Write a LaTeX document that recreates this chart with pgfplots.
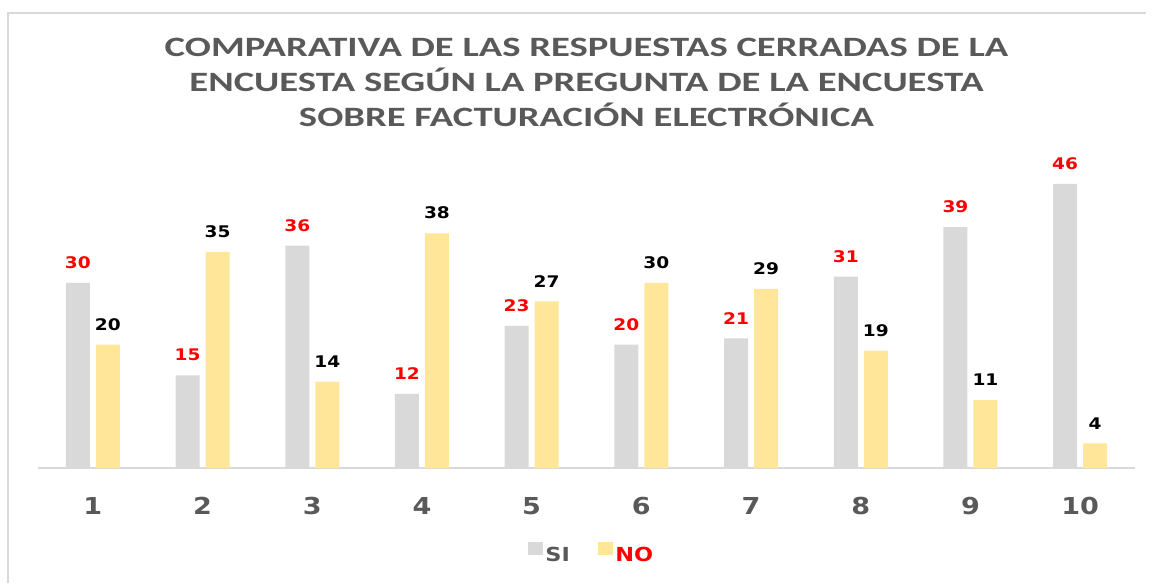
\documentclass[border=0pt]{standalone}
\usepackage{pgfplots}
\pgfplotsset{compat=1.18}
\usepackage{fontspec}
\setmainfont{DejaVu Sans}[FakeStretch=1.16]
\newfontfamily\titlefont{Carlito}[FakeStretch=1.38]
\definecolor{sicol}{HTML}{D9D9D9}
\definecolor{nocol}{HTML}{FFE699}
\definecolor{txtgray}{HTML}{595959}

\begin{document}
\begin{tikzpicture}
% page = 1156 x 583 px at 0.75pt per px
\path[use as bounding box] (-28.5pt,-86.25pt) rectangle (838.5pt,351pt);
\draw[sicol,line width=1.5pt] (-22.5pt,-86.25pt) -- (-22.5pt,341.25pt) -- (831pt,341.25pt);

\begin{axis}[
  scale only axis,
  width=822.75pt, height=238.5pt,
  ybar=4.5pt, bar width=18pt,
  xmin=0.5, xmax=10.5,
  ymin=0, ymax=51.5,
  axis x line=bottom,
  axis y line=none,
  axis line style={-, sicol, line width=1.5pt},
  xtick={1,...,10},
  major tick length=0pt,
  /pgf/number format/assume math mode=true,
  xticklabel style={font=\bfseries\fontsize{17.5}{20}\selectfont, text=txtgray, inner sep=0pt, yshift=-22pt},
  ytick=\empty,
  nodes near coords,
  every node near coord/.append style={font=\bfseries\fontsize{12}{14}\selectfont, inner sep=0pt, yshift=10.5pt},
  legend style={at={(0.505,-0.27)}, anchor=center, draw=none, fill=none,
    legend columns=2, font=\bfseries\fontsize{14.5}{16}\selectfont,
    /tikz/every even column/.append style={column sep=19pt}},
  legend image code/.code={\fill[#1] (0pt,0pt) rectangle (11pt,10pt);},
  clip=false,
]
\addplot[fill=sicol, draw=none, nodes near coords style={text=red}] coordinates {
  (1,30) (2,15) (3,36) (4,12) (5,23) (6,20) (7,21) (8,31) (9,39) (10,46)
};
\addlegendentry{\textcolor{txtgray}{SI}}
\addplot[fill=nocol, draw=none, nodes near coords style={text=black}] coordinates {
  (1,20) (2,35) (3,14) (4,38) (5,27) (6,30) (7,29) (8,19) (9,11) (10,4)
};
\addlegendentry{\textcolor{red}{NO}}

\node[align=center, text=txtgray, font=\titlefont\bfseries\fontsize{21}{26.25}\selectfont]
  at (rel axis cs:0.5,1.214) {COMPARATIVA DE LAS RESPUESTAS CERRADAS DE LA\\ENCUESTA SEGÚN LA PREGUNTA DE LA ENCUESTA\\SOBRE FACTURACIÓN ELECTRÓNICA};
\end{axis}
\end{tikzpicture}
\end{document}
